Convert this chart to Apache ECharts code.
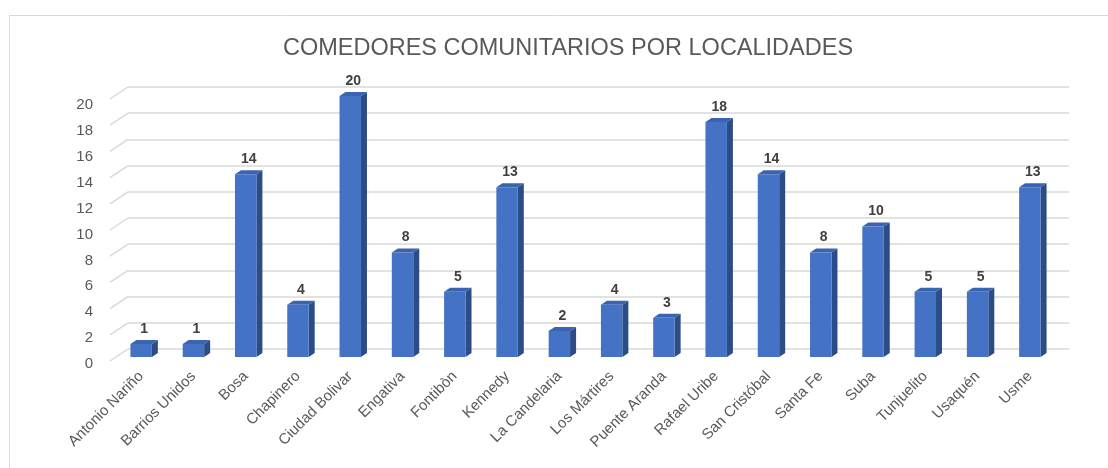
<!DOCTYPE html>
<html><head><meta charset="utf-8">
<script src="https://cdn.jsdelivr.net/npm/echarts@6/dist/echarts.min.js"></script>
<style>html,body{margin:0;padding:0;background:#fff}#c{width:1108px;height:468px}</style>
</head><body><div id="c"></div>
<script>
const titleText = 'COMEDORES COMUNITARIOS POR LOCALIDADES';
const categories = ['Antonio Nariño','Barrios Unidos','Bosa','Chapinero','Ciudad Bolivar','Engativa','Fontibòn','Kennedy','La Candelaria','Los Mártires','Puente Aranda','Rafael Uribe','San Cristóbal','Santa Fe','Suba','Tunjuelito','Usaquén','Usme'];
const values = [1,1,14,4,20,8,5,13,2,4,3,18,14,8,10,5,5,13];
const yTicks = [0,2,4,6,8,10,12,14,16,18,20];

const FONT = 'Liberation Sans';
const chart = echarts.init(document.getElementById('c'));
const DX = 6, DY = -4;
chart.setOption({
  animation: false,
  graphic: [{type:'rect', shape:{x:9.5,y:15.5,width:1200,height:600}, style:{fill:'none',stroke:'#d9d9d9',lineWidth:1}, silent:true, z:-10}],
  title: {text: titleText, left: 563, textAlign: 'center', top: 32,
    textStyle: {fontFamily: FONT, fontSize: 23.5, fontWeight: 'normal', color: '#595959'}},
  grid: [
    {left:115, right:52, top:96, bottom:111},
    {left:128, right:39, top:87, bottom:119},
    {left:100, right:900, top:105, bottom:104}
  ],
  xAxis: [
    {type:'category', gridIndex:0, data:categories, axisLine:{show:false}, axisTick:{show:false},
      axisLabel:{rotate:45, interval:0, margin:17, fontFamily:FONT, fontSize:15, color:'#595959'}},
    {type:'value', gridIndex:1, min:0, max:1, show:false},
    {type:'value', gridIndex:2, min:0, max:1, show:false}
  ],
  yAxis: [
    {type:'value', gridIndex:0, min:0, max:20, interval:2, show:false},
    {type:'value', gridIndex:1, min:0, max:20, interval:2, axisLabel:{show:false}, axisLine:{show:false}, axisTick:{show:false},
      splitLine:{show:true, lineStyle:{color:'#d9d9d9', width:1.5}}},
    {type:'value', gridIndex:2, min:0, max:20, interval:2, axisLine:{show:false}, axisTick:{show:false}, splitLine:{show:false},
      axisLabel:{margin:7, fontFamily:FONT, fontSize:15, color:'#595959'}}
  ],
  series: [
    {type:'custom', xAxisIndex:1, yAxisIndex:1, data: yTicks.map(v=>[0,v]), silent:true,
      renderItem: function(params, api){
        const p = api.coord([0, api.value(1)]);
        return {type:'line', shape:{x1:p[0]-18, y1:p[1]+12, x2:p[0], y2:p[1]}, style:{stroke:'#d9d9d9', lineWidth:1.5}};
      }},
    {type:'custom', xAxisIndex:0, yAxisIndex:0, data: values.map((v,i)=>[i,v]),
      renderItem: function(params, api){
        const x = api.value(0), v = api.value(1);
        const t = api.coord([x, v]), b = api.coord([x, 0]);
        const bw = api.size([1,0])[0]*0.41;
        const l = t[0]-bw/2, r = t[0]+bw/2, ty = t[1], by = b[1];
        return {type:'group', children:[
          {type:'polygon', shape:{points:[[r,ty],[r+DX,ty+DY],[r+DX,by+DY],[r,by]]}, style:{fill:'#2B4C86'}},
          {type:'polygon', shape:{points:[[l,ty],[l+DX,ty+DY],[r+DX,ty+DY],[r,ty]]}, style:{fill:'#3A63B0'}},
          {type:'rect', shape:{x:l, y:ty, width:bw, height:by-ty}, style:{fill:'#4472C4'}},
          {type:'text', x:t[0]+DX/2, y:ty+DY-4, style:{text:String(v), fontFamily:FONT, fontSize:14, fontWeight:'bold', fill:'#404040', align:'center', verticalAlign:'bottom'}}
        ]};
      }}
  ]
});
</script></body></html>
